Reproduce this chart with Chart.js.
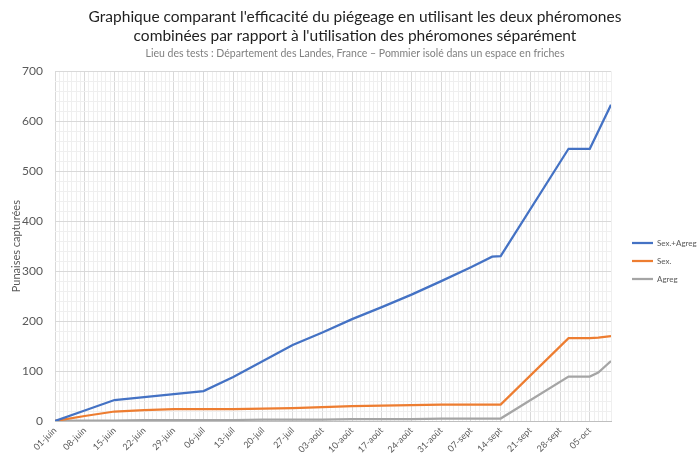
<!DOCTYPE html>
<html>
<head>
<meta charset="utf-8">
<script src="https://cdn.jsdelivr.net/npm/chart.js@4.4.1/dist/chart.umd.min.js"></script>
<style>
  html, body { margin: 0; padding: 0; background: #ffffff; }
  #wrap { width: 700px; height: 458px; position: relative; }
</style>
</head>
<body>
<div id="wrap"><canvas id="c"></canvas></div>
<script>
// Day offsets from 01-juin for each observation
const days = [0, 7, 14, 21, 28, 35, 42, 49, 56, 63, 70, 77, 84, 91, 98, 103, 105, 121, 126, 128, 131];
// Series values (punaises capturées)
const sexAgreg = [0, 21, 42, 48, 54, 60, 88, 120, 152, 177, 204, 228, 253, 280, 308, 329, 330, 545, 545, 580, 633];
const sexOnly  = [0, 10, 19, 22, 24, 24, 24, 25, 26, 28, 30, 31, 32, 33, 33, 33, 33, 166, 166, 167, 170];
const agreg    = [0, 1, 1, 2, 2, 2, 2, 3, 3, 3, 4, 4, 4, 5, 5, 5, 5, 89, 89, 97, 120];
// Weekly tick labels (every 7 days from 01-juin)
const tickLabels = ['01-juin','08-juin','15-juin','22-juin','29-juin','06-juil','13-juil','20-juil','27-juil','03-août','10-août','17-août','24-août','31-août','07-sept','14-sept','21-sept','28-sept','05-oct'];
const seriesNames = ['Sex.+Agreg', 'Sex.', 'Agreg'];
const colors = ['#4472C4', '#ED7D31', '#A5A5A5'];

const toPts = arr => days.map((d, i) => ({x: d, y: arr[i]}));
const FONT = 'Lato, "Liberation Sans", sans-serif';

// Small layout helper: gives the right-hand legend a fixed width and offset
const legendPlacement = {
  id: 'legendPlacement',
  afterInit(chart) {
    const lg = chart.legend;
    if (!lg || lg._patched) return;
    lg._patched = true;
    const fit = lg.fit;
    lg.fit = function () { fit.call(this); this.width = 89; };
    const draw = lg.draw;
    lg.draw = function () {
      const l = this.left, t = this.top, b = this.bottom;
      this.left = l + 11; this.top = t + 31; this.bottom = b + 31;
      draw.call(this);
      this.left = l; this.top = t; this.bottom = b;
    };
  }
};

new Chart(document.getElementById('c'), {
  type: 'line',
  data: {
    datasets: [sexAgreg, sexOnly, agreg].map((arr, i) => ({
      label: seriesNames[i],
      data: toPts(arr),
      borderColor: colors[i],
      backgroundColor: colors[i],
      borderWidth: 2.25,
      pointRadius: 0,
      tension: 0
    }))
  },
  plugins: [legendPlacement],
  options: {
    responsive: true,
    maintainAspectRatio: false,
    animation: false,
    layout: { padding: { left: 10, right: 0, top: 4, bottom: 2 } },
    plugins: {
      title: {
        display: true,
        text: ["Graphique comparant l'efficacité du piégeage en utilisant les deux phéromones",
               "combinées par rapport à l'utilisation des phéromones séparément"],
        color: '#1f1f1f',
        font: { family: FONT, size: 15.5, weight: 'normal', lineHeight: 1.25 },
        padding: { top: 3, bottom: 2 }
      },
      subtitle: {
        display: true,
        text: 'Lieu des tests : Département des Landes, France – Pommier isolé dans un espace en friches',
        color: '#7f7f7f',
        font: { family: FONT, size: 10.5, lineHeight: 1.2 },
        padding: { top: 0, bottom: 11 }
      },
      legend: {
        position: 'right',
        labels: {
          usePointStyle: true,
          pointStyle: 'line',
          pointStyleWidth: 21,
          boxHeight: 9,
          color: '#595959',
          font: { family: FONT, size: 8 },
          padding: 10
        }
      },
      tooltip: { enabled: false }
    },
    scales: {
      x: {
        type: 'linear',
        min: 0,
        max: 131,
        afterFit: s => { s.height = 35; },
        grid: {
          drawTicks: false,
          color: ctx => (ctx.tick && ctx.tick.value % 7 === 0) ? '#d9d9d9' : '#efefef',
          lineWidth: 1
        },
        border: { color: '#bfbfbf', width: 1 },
        ticks: {
          stepSize: 1,
          autoSkip: false,
          minRotation: 45,
          maxRotation: 45,
          padding: 4,
          color: '#595959',
          font: { family: FONT, size: 9 },
          callback: v => (v % 7 === 0 && tickLabels[v / 7] !== undefined) ? tickLabels[v / 7] : ''
        }
      },
      y: {
        min: 0,
        max: 700,
        afterFit: s => { s.width = 45; },
        grid: {
          drawTicks: false,
          color: ctx => (ctx.tick && ctx.tick.value % 100 === 0) ? '#d9d9d9' : '#efefef',
          lineWidth: 1
        },
        border: { display: false },
        ticks: {
          stepSize: 20,
          autoSkip: false,
          padding: 12,
          color: '#595959',
          font: { family: FONT, size: 12 },
          callback: v => (v % 100 === 0) ? v : ''
        },
        title: {
          display: true,
          text: 'Punaises capturées',
          color: '#595959',
          font: { family: FONT, size: 11 },
          padding: { top: 0, bottom: 8 }
        }
      }
    }
  }
});
</script>
</body>
</html>
